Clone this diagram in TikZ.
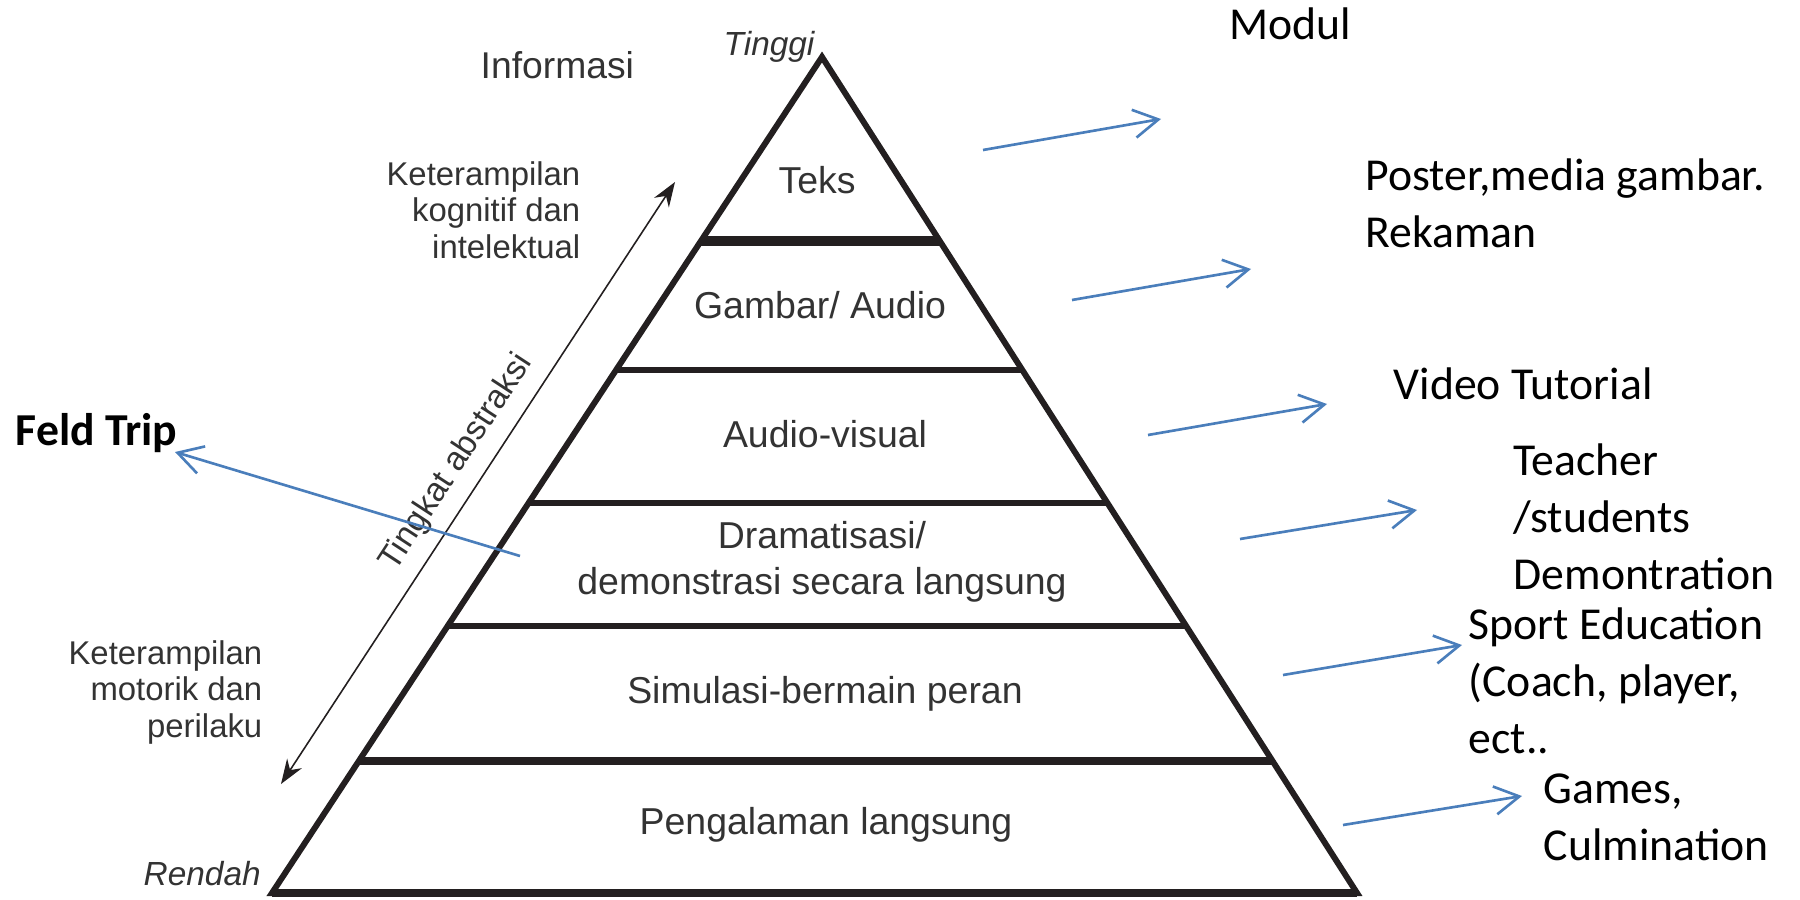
\documentclass[tikz,border=0pt]{standalone}
\usepackage{fontspec}
\setmainfont{Liberation Sans}
\newfontfamily\calfont{Carlito}
\usetikzlibrary{arrows.meta,calc}
\definecolor{ink}{HTML}{231F20}
\definecolor{txt}{HTML}{333333}
\definecolor{blueline}{HTML}{4A7EBB}
\tikzset{
  pyr/.style={font=\fontsize{10.65}{13}\selectfont, text=txt, inner sep=0pt, align=center, anchor=base},
  sidelbl/.style={font=\fontsize{9.35}{10.3}\selectfont, text=txt, inner sep=0pt, align=right, anchor=base east},
  ital/.style={font=\fontsize{9.5}{11}\selectfont\itshape, text=txt, inner sep=0pt, anchor=base west},
  rtext/.style={font=\calfont\fontsize{13}{16.1}\selectfont, inner sep=0pt, align=left, anchor=base west},
  barrow/.style={draw=blueline, line width=0.75pt, -{Straight Barb[length=7pt,width=8pt]}},
  sepline/.style={draw=ink},
}
\begin{document}
\begin{tikzpicture}[x=0.01cm,y=-0.01cm]
\useasboundingbox (0,0) rectangle (1800,900);
% pyramid
\coordinate (A) at (822,57);
\coordinate (L) at (272,893);
\coordinate (R) at (1357,893);
\draw[ink, line width=1.7pt, line join=miter] (A) -- (L) -- (R) -- cycle;
\draw[ink, line width=2.3pt] (L) -- (R);
\draw[sepline, line width=2.8pt] ($(A)!0.2201!(L)$) -- ($(A)!0.2201!(R)$);
\draw[sepline, line width=1.7pt] ($(A)!0.3744!(L)$) -- ($(A)!0.3744!(R)$);
\draw[sepline, line width=1.8pt] ($(A)!0.5335!(L)$) -- ($(A)!0.5335!(R)$);
\draw[sepline, line width=1.5pt] ($(A)!0.6806!(L)$) -- ($(A)!0.6806!(R)$);
\draw[sepline, line width=2.3pt] ($(A)!0.8421!(L)$) -- ($(A)!0.8421!(R)$);
% level labels
\node[pyr] (teks) at (817,193) {Teks};
\node[pyr] (gambar) at (820,318) {Gambar/ Audio};
\node[pyr] (av) at (825,447) {Audio-visual};
\node[pyr] (drama) at (822,594) {Dramatisasi/\\demonstrasi secara langsung};
\node[pyr] (simul) at (825,703) {Simulasi-bermain peran};
\node[pyr] (peng) at (826,834) {Pengalaman langsung};
% left annotations
\node[ital] (tinggi) at (723,55) {Tinggi};
\node[ital] (rendah) at (143,885) {Rendah};
\node[font=\fontsize{10.6}{12}\selectfont, text=txt, inner sep=0pt, anchor=base west] (info) at (480,78) {Informasi};
\node[sidelbl] (kog) at (581,258) {Keterampilan\\kognitif dan\\intelektual};
\node[sidelbl] (mot) at (263,737) {Keterampilan\\motorik dan\\perilaku};
\coordinate (abtop) at (675,182);
\coordinate (abbot) at (281,784);
\draw[ink, line width=0.45pt, {Stealth[length=7pt,width=5pt]}-{Stealth[length=7pt,width=5pt]}] (abbot) -- (abtop);
\node[font=\fontsize{9.5}{11}\selectfont, text=txt, inner sep=0pt, anchor=base, rotate=56.8] (tingkat) at (464,467) {Tingkat abstraksi};
% right annotations
\node[rtext] (modul) at (1229,40) {Modul};
\node[rtext] (poster) at (1365,247) {Poster,media gambar.\\Rekaman};
\node[rtext] (video) at (1393,399) {Video Tutorial};
\node[rtext] (teacher) at (1513,589) {Teacher\\/students\\Demontration};
\node[rtext] (sport) at (1468,753) {Sport Education\\(Coach, player,\\ect..};
\node[rtext] (games) at (1543,860) {Games,\\Culmination};
\node[font=\calfont\bfseries\fontsize{13}{16}\selectfont, inner sep=0pt, anchor=base west] (feld) at (15,445) {Feld Trip};
% blue arrows
\coordinate (s1) at (983,150);  \coordinate (t1) at (1161,119);
\coordinate (s2) at (1072,300); \coordinate (t2) at (1251,269);
\coordinate (s3) at (1148,435); \coordinate (t3) at (1327,404);
\coordinate (s4) at (1240,539); \coordinate (t4) at (1417,510);
\coordinate (s5) at (1283,675); \coordinate (t5) at (1462,645);
\coordinate (s6) at (1343,825); \coordinate (t6) at (1522,796);
\coordinate (sf) at (520,556);  \coordinate (tf) at (175,452);
\draw[barrow] (s1) -- (t1);
\draw[barrow] (s2) -- (t2);
\draw[barrow] (s3) -- (t3);
\draw[barrow] (s4) -- (t4);
\draw[barrow] (s5) -- (t5);
\draw[barrow] (s6) -- (t6);
\draw[barrow] (sf) -- (tf);
\end{tikzpicture}
\end{document}
